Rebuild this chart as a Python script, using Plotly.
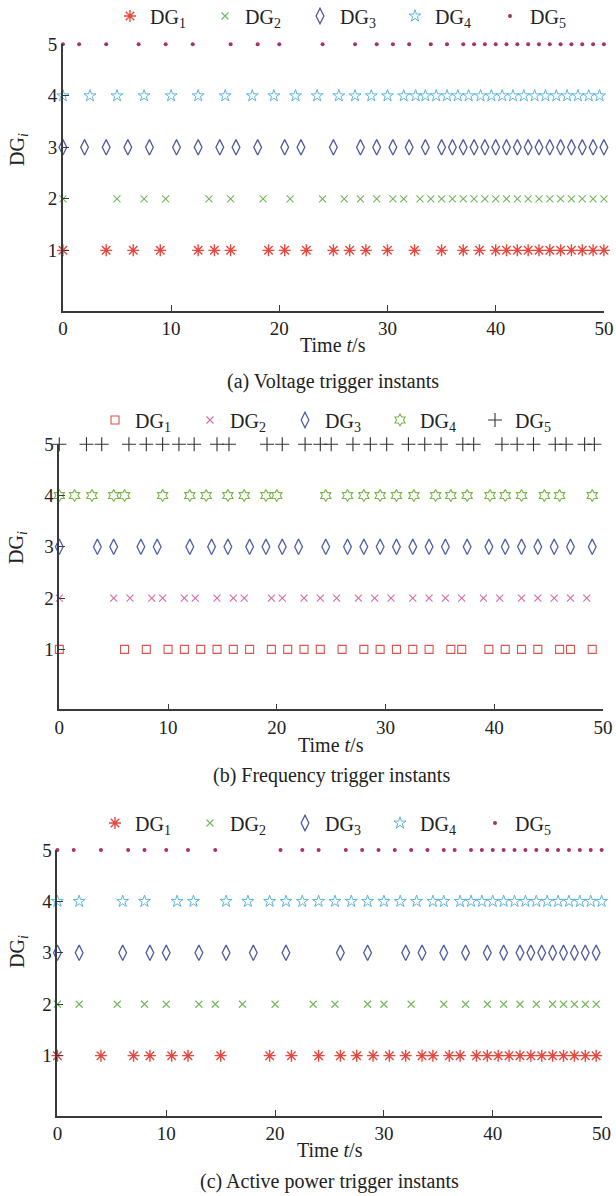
import plotly.graph_objects as go

# ---------------- data (trigger instants, s) ----------------
dg_labels = ["DG<sub>1</sub>", "DG<sub>2</sub>", "DG<sub>3</sub>", "DG<sub>4</sub>", "DG<sub>5</sub>"]
x_ticks = [0, 10, 20, 30, 40, 50]
y_ticks = [1, 2, 3, 4, 5]

# (a) Voltage trigger instants
volt_dg1 = [0, 4, 6.5, 9, 12.5, 14, 15.5, 19, 20.5, 22.5, 25, 26.5, 28, 30, 32.5, 35, 37, 38.5,
            40, 41, 42, 43, 44, 45, 46, 47, 48, 49, 50]
volt_dg2 = [0, 5, 7.5, 9.5, 13.5, 15.5, 18.5, 21, 24, 26, 27.5, 29, 30.5, 31.5, 33, 34, 35, 36, 37,
            38, 39, 40, 41, 42, 43, 44, 45, 46, 47, 48, 49, 50]
volt_dg3 = [0, 2, 4, 6, 8, 10.5, 12.5, 14.5, 16, 18, 20.5, 22, 25, 27.5, 29, 30.5, 32, 33.5, 35,
            36, 37, 38, 39, 40, 41, 42, 43, 44, 45, 46, 47, 48, 49, 50]
volt_dg4 = [0, 2.5, 5, 7.5, 10, 12.5, 15, 17.5, 19.5, 21.5, 23.5, 25.5, 27, 28.5, 30, 31.5, 32.6,
            33.5, 34.5, 35.5, 36.5, 37.5, 38.6, 39.6, 40.6, 41.6, 42.6, 43.6, 44.6, 45.6, 46.6,
            47.6, 48.6, 49.6]
volt_dg5 = [0, 1.5, 4, 7, 9.5, 12, 15.5, 18, 20, 24, 27, 29, 30.5, 32, 34, 35.5, 37, 38, 39, 40,
            41, 42, 43, 44, 45, 46, 47, 48, 49, 50]

# (b) Frequency trigger instants
freq_dg1 = [0, 6, 8, 10, 11.5, 13, 14.5, 16, 17.5, 19.5, 21, 22.5, 24, 26, 28, 29.5, 31, 32.5, 34,
            36, 37, 39.5, 41, 42.5, 44, 46, 47, 49]
freq_dg2 = [0, 5, 6.5, 8.5, 9.5, 11.5, 12.5, 14.5, 16, 17, 19.5, 20.5, 22.5, 24, 25.5, 27.5, 29,
            30.5, 32.5, 34, 35.5, 37, 39, 40.5, 42.5, 44, 45.5, 47, 48.5]
freq_dg3 = [0, 3.5, 5, 7.5, 9, 12, 14, 15.5, 17.5, 19, 20.5, 22, 24.5, 26.5, 28, 29.5, 31, 32.5,
            34, 35.5, 37.5, 39.5, 41, 42.5, 44, 45.5, 47, 49]
freq_dg4 = [0, 1.4, 3, 5, 6, 9.5, 12, 13.5, 15.5, 17, 19, 20, 24.5, 26.5, 28, 29.5, 31, 32.6, 34.6,
            36, 37.5, 39.6, 41, 42.5, 44.6, 46, 49]
freq_dg5 = [0, 2.5, 3.9, 6.4, 8, 9.5, 11, 12.4, 14.5, 15.6, 19.1, 20.5, 22.6, 24, 25, 27, 28.6,
            30.1, 32.1, 33.6, 35.1, 37.1, 38.1, 40.7, 42.1, 43.6, 45.6, 46.6, 48.3, 49.2]

# (c) Active power trigger instants
pow_dg1 = [0, 4, 7, 8.5, 10.5, 12, 15, 19.5, 21.5, 24, 26, 27.5, 29, 30.5, 32, 33.5, 34.5, 36, 37,
           38.5, 39.5, 40.5, 41.5, 42.5, 43.5, 44.5, 45.5, 46.5, 47.5, 48.5, 49.5]
pow_dg2 = [0, 2, 5.5, 8, 10, 13, 14.5, 17, 20, 23.5, 25.5, 28.5, 30, 32.5, 35.5, 37.5, 39.5, 41,
           42.5, 44, 45.5, 46.5, 47.5, 48.5, 49.5]
pow_dg3 = [0, 2, 6, 8.5, 10, 13, 15.5, 18, 21, 26, 28.5, 32, 33.5, 35.5, 37.5, 39.5, 41, 42.5,
           43.5, 44.5, 45.5, 46.5, 47.5, 48.5, 49.5]
pow_dg4 = [0, 2, 6, 8, 11, 12.5, 15.5, 17.5, 19.5, 21, 22.5, 24, 25.5, 27, 28.5, 30, 31.5, 33,
           34.5, 35.5, 37, 38, 39, 40, 41, 42, 43, 44, 45, 46, 47, 48, 49, 50]
pow_dg5 = [0, 1.5, 4, 6.5, 8, 10, 12, 14.5, 20.5, 22.5, 24, 26.5, 28, 29.5, 31, 32.5, 34, 35.5,
           36.5, 38, 39, 40, 41, 42, 43, 44, 45, 46, 47, 48, 49, 50]

captions = ["(a) Voltage trigger instants", "(b) Frequency trigger instants",
            "(c) Active power trigger instants"]

# ---------------- styles ----------------
FONT = "Liberation Serif"
W, H = 616, 1196

style_ac = [
    dict(symbol="asterisk-open", size=10, line=dict(color="#e8473d", width=1.4), color="#e8473d"),
    dict(symbol="x-thin-open", size=7, line=dict(color="#72b85a", width=1.1), color="#72b85a"),
    dict(symbol="diamond-tall-open", size=11, line=dict(color="#4f5a9e", width=1.3), color="#4f5a9e"),
    dict(symbol="star-open", size=9, line=dict(color="#5db5de", width=1.0), color="#5db5de"),
    dict(symbol="circle", size=4, line=dict(width=0), color="#a83268"),
]
style_b = [
    dict(symbol="square-open", size=8, line=dict(color="#d9534f", width=1.1), color="#d9534f"),
    dict(symbol="x-thin-open", size=7, line=dict(color="#d46ca8", width=1.1), color="#d46ca8"),
    dict(symbol="diamond-tall-open", size=11, line=dict(color="#5060a8", width=1.3), color="#5060a8"),
    dict(symbol="hexagram-open", size=9, line=dict(color="#7ab648", width=1.1), color="#7ab648"),
    dict(symbol="cross-thin-open", size=10, line=dict(color="#333333", width=1.1), color="#333333"),
]

# layout in pixels: (x of t=0, x of t=50, y of DG=5, y of axis line)
panels = [
    dict(data=[volt_dg1, volt_dg2, volt_dg3, volt_dg4, volt_dg5], style=style_ac,
         px=(62.9, 603.9), py=(44.3, 310.6), leg=(110, 16), ytitle=150, xtitle=345, cap=381),
    dict(data=[freq_dg1, freq_dg2, freq_dg3, freq_dg4, freq_dg5], style=style_b,
         px=(59.3, 603.1), py=(444.3, 709.3), leg=(95, 420), ytitle=548, xtitle=745, cap=775),
    dict(data=[pow_dg1, pow_dg2, pow_dg3, pow_dg4, pow_dg5], style=style_ac,
         px=(57.4, 601.6), py=(850.0, 1115.8), leg=(95, 823), ytitle=952, xtitle=1150, cap=1181),
]

YMIN, YMAX = -0.17, 5.0

fig = go.Figure()
annotations = []
for k, p in enumerate(panels):
    sfx = "" if k == 0 else str(k + 1)
    leg = "legend" if k == 0 else f"legend{k + 1}"
    for i, (xs, st) in enumerate(zip(p["data"], p["style"])):
        fig.add_trace(go.Scatter(
            x=xs, y=[i + 1] * len(xs), mode="markers", name=dg_labels[i],
            marker=st, xaxis=f"x{sfx}", yaxis=f"y{sfx}", legend=leg, cliponaxis=False,
        ))
    x0, x1 = p["px"]
    ytop, ybot = p["py"]
    axis_common = dict(showgrid=False, zeroline=False, showline=True, linecolor="#3a3a3a",
                       linewidth=1.5, ticks="inside", ticklen=6, tickwidth=1.2,
                       tickcolor="#3a3a3a", automargin=False,
                       tickfont=dict(family=FONT, size=19, color="#222"))
    fig.layout[f"xaxis{sfx}"] = dict(domain=[x0 / W, x1 / W], range=[0, 50], tickvals=x_ticks,
                                     anchor=f"y{sfx}", **axis_common)
    fig.layout[f"yaxis{sfx}"] = dict(domain=[1 - ybot / H, 1 - ytop / H], range=[YMIN, YMAX],
                                     tickvals=y_ticks, anchor=f"x{sfx}", **axis_common)
    lx, ly = p["leg"]
    fig.layout[leg] = dict(orientation="h", x=lx / W, y=1 - ly / H, xanchor="left",
                           yanchor="middle", entrywidth=50, entrywidthmode="pixels",
                           itemwidth=30, bgcolor="rgba(0,0,0,0)",
                           font=dict(family=FONT, size=20, color="#222"))
    xc = (x0 + x1) / 2 / W
    annotations += [
        dict(text="DG<sub><i>i</i></sub>", x=18 / W, y=1 - p["ytitle"] / H, xref="paper",
             yref="paper", textangle=-90, showarrow=False, xanchor="center", yanchor="middle",
             font=dict(family=FONT, size=20, color="#222")),
        dict(text="Time <i>t</i>/s", x=xc, y=1 - p["xtitle"] / H, xref="paper", yref="paper",
             showarrow=False, xanchor="center", yanchor="middle",
             font=dict(family=FONT, size=20, color="#222")),
        dict(text=captions[k], x=xc, y=1 - p["cap"] / H, xref="paper", yref="paper",
             showarrow=False, xanchor="center", yanchor="middle",
             font=dict(family=FONT, size=20, color="#222")),
    ]

fig.update_layout(width=W, height=H, margin=dict(l=0, r=0, t=0, b=0, autoexpand=False),
                  paper_bgcolor="white", plot_bgcolor="white", annotations=annotations,
                  showlegend=True)
fig.write_html("out.html", config={"displayModeBar": False},
               post_script="document.body.style.margin='0';document.body.style.overflow='hidden';")
